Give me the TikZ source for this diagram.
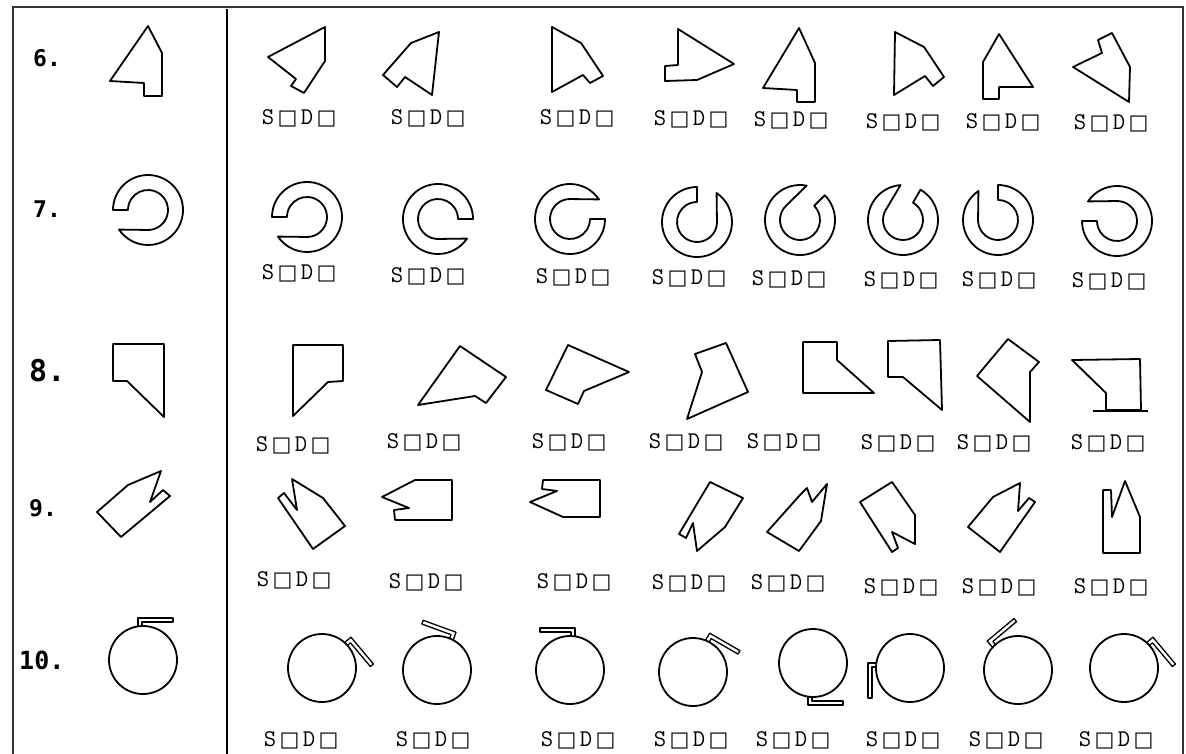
\documentclass[tikz,border=0pt]{standalone}
\usepackage{fontspec}
\newfontfamily\numfont{DejaVu Sans Mono}
\newfontfamily\boxfont{DejaVu Sans}
\newcommand\sqbox{{\boxfont\fontsize{21pt}{21pt}\selectfont □}}
\newcommand\sdtext{\makebox[19.5pt]{S}\makebox[19.5pt]{\sqbox}\makebox[19.5pt]{D}\makebox[19.5pt]{\sqbox}}
\tikzset{
  shp/.style={line width=1.8pt, line join=round},
  hdl/.style={line width=1.3pt, line join=round},
  sd/.style={anchor=west, inner sep=0pt, font=\ttfamily\fontsize{24pt}{24pt}\selectfont},
  num/.style={anchor=west, inner sep=0pt, font=\numfont\bfseries\fontsize{23pt}{23pt}\selectfont},
}
\newcommand\ringshape[4]{%
  \begin{scope}[shift={(#1,#2)},rotate=#3,xscale=#4]
    \draw[shp] (180:35) arc[start angle=180,end angle=506,radius=35] -- (454:20) arc[start angle=454,end angle=180,radius=20] -- cycle;
  \end{scope}}
\newcommand\knob[4]{%
  \begin{scope}[shift={(#1,#2)},rotate=#3,xscale=#4]
    \draw[shp] (0,0) circle[radius=34];
    \draw[hdl] (-5,-33.6) -- (-5,-42) -- (30,-42) -- (30,-38) -- (-1,-38) -- (-1,-34);
  \end{scope}}
\begin{document}
\begin{tikzpicture}[x=1pt,y=-1pt]
\useasboundingbox (0,0) rectangle (1186,754);
% frame
\draw[line width=1.2pt, black!80] (13,756) -- (13,7) -- (1183,7) -- (1183,756);
\draw[line width=2pt] (227,9) -- (227,756);
% row numbers
\node[num] (n6) at (33,58) {6.};
\node[num] (n7) at (33,209) {7.};
\node[num, font=\numfont\bfseries\fontsize{30pt}{30pt}\selectfont] (n8) at (29,371) {8.};
\node[num] (n9) at (29,508) {9.};
\node[num, font=\numfont\bfseries\fontsize{25pt}{25pt}\selectfont] (n10) at (19,660) {10.};
% ---- row 6
\draw[shp] (148,26) -- (162,53) -- (162,96) -- (144,96) -- (144,83) -- (110,81) -- cycle;
\draw[shp] (325,27) -- (325,61) -- (304,93) -- (291,86) -- (296,79) -- (268,57) -- cycle;
\draw[shp] (439,32) -- (411,43) -- (383,75) -- (397,87) -- (405,77) -- (432,95) -- cycle;
\draw[shp] (552,27) -- (581,43) -- (603,76) -- (590,83) -- (583,75) -- (552,92) -- cycle;
\draw[shp] (678,29) -- (734,64) -- (697,80) -- (665,81) -- (665,66) -- (678,65) -- cycle;
\draw[shp] (799,28) -- (815,63) -- (815,102) -- (797,102) -- (797,90) -- (763,88) -- cycle;
\draw[shp] (895,32) -- (924,47) -- (944,77) -- (933,86) -- (925,76) -- (894,95) -- cycle;
\draw[shp] (999,34) -- (1033,87) -- (999,87) -- (999,99) -- (983,99) -- (983,62) -- cycle;
\draw[shp] (1112,33) -- (1130,67) -- (1129,102) -- (1073,67) -- (1102,53) -- (1098,40) -- cycle;
\node[sd] (l61) at (258,118) {\sdtext};
\node[sd] (l62) at (387,118) {\sdtext};
\node[sd] (l63) at (536,118) {\sdtext};
\node[sd] (l64) at (650,119) {\sdtext};
\node[sd] (l65) at (750,120) {\sdtext};
\node[sd] (l66) at (862,122) {\sdtext};
\node[sd] (l67) at (962,122) {\sdtext};
\node[sd] (l68) at (1070,123) {\sdtext};
% ---- row 7
\ringshape{148}{210}{0}{1}
\ringshape{307}{217}{0}{1}
\ringshape{438}{219}{0}{-1}
\ringshape{570}{219}{-180}{1}
\ringshape{697}{222}{90}{-1}
\ringshape{800}{220}{-135}{1}
\ringshape{903}{220}{-120}{1}
\ringshape{998}{220}{-90}{1}
\ringshape{1117}{221}{-180}{-1}
\node[sd] (l71) at (258,273) {\sdtext};
\node[sd] (l72) at (387,276) {\sdtext};
\node[sd] (l73) at (532,277) {\sdtext};
\node[sd] (l74) at (648,278) {\sdtext};
\node[sd] (l75) at (748,279) {\sdtext};
\node[sd] (l76) at (860,280) {\sdtext};
\node[sd] (l77) at (958,280) {\sdtext};
\node[sd] (l78) at (1068,281) {\sdtext};
% ---- row 8
\draw[shp] (113,344) -- (164,344) -- (164,417) -- (127,381) -- (113,381) -- cycle;
\draw[shp] (293,345) -- (343,345) -- (343,381) -- (328,382) -- (293,416) -- cycle;
\draw[shp] (460,346) -- (506,377) -- (486,403) -- (475,396) -- (418,405) -- cycle;
\draw[shp] (568,345) -- (629,372) -- (584,391) -- (578,404) -- (546,390) -- cycle;
\draw[shp] (695,354) -- (726,343) -- (748,392) -- (687,419) -- (702,372) -- cycle;
\draw[shp] (803,342) -- (837,342) -- (837,360) -- (874,393) -- (803,393) -- cycle;
\draw[shp] (888,341) -- (940,340) -- (942,410) -- (903,377) -- (888,377) -- cycle;
\draw[shp] (1008,339) -- (1039,362) -- (1030,372) -- (1030,422) -- (977,376) -- cycle;
\draw[shp] (1072,360) -- (1140,359) -- (1141,410) -- (1106,410) -- (1106,393) -- cycle;
\draw[shp] (1093,411) -- (1148,411);
\node[sd] (l81) at (252,445) {\sdtext};
\node[sd] (l82) at (383,442) {\sdtext};
\node[sd] (l83) at (528,442) {\sdtext};
\node[sd] (l84) at (645,442) {\sdtext};
\node[sd] (l85) at (743,442) {\sdtext};
\node[sd] (l86) at (857,443) {\sdtext};
\node[sd] (l87) at (953,443) {\sdtext};
\node[sd] (l88) at (1067,443) {\sdtext};
% ---- row 9
\draw[shp] (97,512) -- (128,485) -- (161,471) -- (150,502) -- (163,490) -- (170,496) -- (121,537) -- cycle;
\draw[shp] (292,479) -- (323,498) -- (345,526) -- (313,549) -- (278,498) -- (284,493) -- (297,510) -- cycle;
\draw[shp] (395,520) -- (452,520) -- (452,480) -- (415,480) -- (382,497) -- (409,508) -- (394,510) -- cycle;
\draw[shp] (543,480) -- (600,480) -- (600,517) -- (563,517) -- (530,502) -- (557,491) -- (542,489) -- cycle;
\draw[shp] (710,482) -- (743,498) -- (725,527) -- (697,551) -- (693,523) -- (686,538) -- (679,534) -- cycle;
\draw[shp] (827,484) -- (821,521) -- (799,551) -- (767,532) -- (800,495) -- (807,488) -- (812,502) -- cycle;
\draw[shp] (892,482) -- (915,515) -- (915,544) -- (892,532) -- (898,548) -- (892,552) -- (860,502) -- cycle;
\draw[shp] (968,527) -- (993,497) -- (1020,483) -- (1018,511) -- (1029,498) -- (1035,502) -- (1000,552) -- cycle;
\draw[shp] (1103,490) -- (1111,490) -- (1112,517) -- (1125,481) -- (1140,517) -- (1140,553) -- (1103,553) -- cycle;
\node[sd] (l91) at (253,580) {\sdtext};
\node[sd] (l92) at (385,582) {\sdtext};
\node[sd] (l93) at (533,582) {\sdtext};
\node[sd] (l94) at (648,583) {\sdtext};
\node[sd] (l95) at (747,583) {\sdtext};
\node[sd] (l96) at (860,587) {\sdtext};
\node[sd] (l97) at (958,587) {\sdtext};
\node[sd] (l98) at (1070,587) {\sdtext};
% ---- row 10
\knob{143}{660}{0}{1}
\knob{322}{668}{-50}{1}
\knob{437}{670}{-20}{-1}
\knob{570}{670}{0}{-1}
\knob{693}{672}{-30}{1}
\knob{813}{663}{-180}{-1}
\knob{910}{668}{90}{-1}
\knob{1018}{670}{40}{1}
\knob{1124}{668}{-50}{1}
\node[sd] (l101) at (260,740) {\sdtext};
\node[sd] (l102) at (392,740) {\sdtext};
\node[sd] (l103) at (537,740) {\sdtext};
\node[sd] (l104) at (650,740) {\sdtext};
\node[sd] (l105) at (752,740) {\sdtext};
\node[sd] (l106) at (862,740) {\sdtext};
\node[sd] (l107) at (965,740) {\sdtext};
\node[sd] (l108) at (1075,740) {\sdtext};
\end{tikzpicture}
\end{document}
